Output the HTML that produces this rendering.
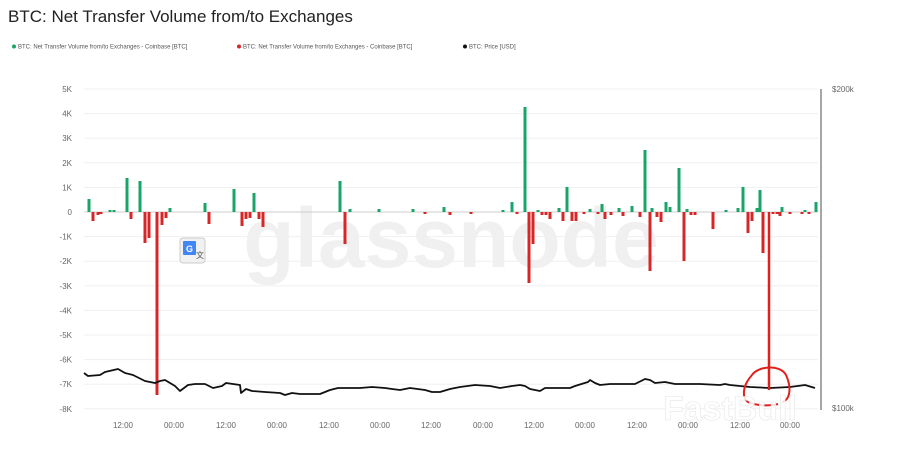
<!DOCTYPE html>
<html><head><meta charset="utf-8"><style>
html,body{margin:0;padding:0;background:#fff;width:901px;height:474px;overflow:hidden}
svg{display:block}
text{font-family:"Liberation Sans",sans-serif}
</style></head><body>
<svg width="901" height="474" viewBox="0 0 901 474" xmlns="http://www.w3.org/2000/svg">
<rect width="901" height="474" fill="#fff"/>
<text x="8" y="22" font-size="17" fill="#222">BTC: Net Transfer Volume from/to Exchanges</text>
<g font-size="6" fill="#555">
<circle cx="14" cy="46.5" r="2" fill="#1aa568"/><text x="18" y="48.5">BTC: Net Transfer Volume from/to Exchanges - Coinbase [BTC]</text>
<circle cx="239" cy="46.5" r="2" fill="#d62728"/><text x="243" y="48.5">BTC: Net Transfer Volume from/to Exchanges - Coinbase [BTC]</text>
<circle cx="465" cy="46.5" r="2" fill="#111"/><text x="469" y="48.5">BTC: Price [USD]</text>
</g>
<g stroke="#f0f0f0" stroke-width="1">
<line x1="84" x2="818" y1="89" y2="89"/><line x1="84" x2="818" y1="113.6" y2="113.6"/><line x1="84" x2="818" y1="138.2" y2="138.2"/><line x1="84" x2="818" y1="162.8" y2="162.8"/><line x1="84" x2="818" y1="187.4" y2="187.4"/><line x1="84" x2="818" y1="236.6" y2="236.6"/><line x1="84" x2="818" y1="261.2" y2="261.2"/><line x1="84" x2="818" y1="285.8" y2="285.8"/><line x1="84" x2="818" y1="310.4" y2="310.4"/><line x1="84" x2="818" y1="335" y2="335"/><line x1="84" x2="818" y1="359.6" y2="359.6"/><line x1="84" x2="818" y1="384.2" y2="384.2"/><line x1="84" x2="818" y1="408.8" y2="408.8"/>
</g>
<text x="451" y="267" font-size="84" font-weight="bold" fill="#f0f0f0" text-anchor="middle">glassnode</text>
<line x1="84" x2="818" y1="212" y2="212" stroke="#ccc" stroke-width="1"/>
<g font-size="8" fill="#666" text-anchor="end">
<text x="72" y="92">5K</text><text x="72" y="116.6">4K</text><text x="72" y="141.2">3K</text><text x="72" y="165.8">2K</text><text x="72" y="190.4">1K</text><text x="72" y="215">0</text><text x="72" y="239.6">-1K</text><text x="72" y="264.2">-2K</text><text x="72" y="288.8">-3K</text><text x="72" y="313.4">-4K</text><text x="72" y="338">-5K</text><text x="72" y="362.6">-6K</text><text x="72" y="387.2">-7K</text><text x="72" y="411.8">-8K</text>
</g>
<line x1="821" x2="821" y1="89" y2="410" stroke="#888" stroke-width="1.5"/>
<g font-size="8" fill="#666"><text x="832" y="92">$200k</text><text x="832" y="411">$100k</text></g>
<g font-size="8" fill="#666" text-anchor="middle">
<text x="123" y="428">12:00</text><text x="174" y="428">00:00</text><text x="226" y="428">12:00</text><text x="277" y="428">00:00</text><text x="329" y="428">12:00</text><text x="380" y="428">00:00</text><text x="431" y="428">12:00</text><text x="483" y="428">00:00</text><text x="534" y="428">12:00</text><text x="585" y="428">00:00</text><text x="637" y="428">12:00</text><text x="688" y="428">00:00</text><text x="740" y="428">12:00</text><text x="790" y="428">00:00</text>
</g>
<g fill="#1aa568">
<rect x="87.5" y="199" width="3" height="13"/><rect x="108.5" y="210" width="3" height="2"/><rect x="112.5" y="210" width="3" height="2"/><rect x="125.5" y="178" width="3" height="34"/><rect x="138.5" y="181" width="3" height="31"/><rect x="168.5" y="208" width="3" height="4"/><rect x="203.5" y="203" width="3" height="9"/><rect x="232.5" y="189" width="3" height="23"/><rect x="252.5" y="193" width="3" height="19"/><rect x="338.5" y="181" width="3" height="31"/><rect x="348.5" y="209" width="3" height="3"/><rect x="377.5" y="209" width="3" height="3"/><rect x="411.5" y="209" width="3" height="3"/><rect x="442.5" y="207" width="3" height="5"/><rect x="501.5" y="210" width="3" height="2"/><rect x="510.5" y="202" width="3" height="10"/><rect x="523.5" y="107" width="3" height="105"/><rect x="536.5" y="210" width="3" height="2"/><rect x="557.5" y="208" width="3" height="4"/><rect x="565.5" y="187" width="3" height="25"/><rect x="588.5" y="209" width="3" height="3"/><rect x="600.5" y="204" width="3" height="8"/><rect x="617.5" y="208" width="3" height="4"/><rect x="630.5" y="206" width="3" height="6"/><rect x="643.5" y="150" width="3" height="62"/><rect x="650.5" y="208" width="3" height="4"/><rect x="664.5" y="202" width="3" height="10"/><rect x="668.5" y="207" width="3" height="5"/><rect x="677.5" y="168" width="3" height="44"/><rect x="685.5" y="209" width="3" height="3"/><rect x="724.5" y="210" width="3" height="2"/><rect x="736.5" y="208" width="3" height="4"/><rect x="741.5" y="187" width="3" height="25"/><rect x="755.5" y="208" width="3" height="4"/><rect x="758.5" y="190" width="3" height="22"/><rect x="780.5" y="207" width="3" height="5"/><rect x="803.5" y="210" width="3" height="2"/><rect x="814.5" y="202" width="3" height="10"/>
</g>
<g fill="#d62728">
<rect x="91.5" y="212" width="3" height="9"/><rect x="96.5" y="212" width="3" height="3"/><rect x="99.5" y="212" width="3" height="2"/><rect x="129.5" y="212" width="3" height="7"/><rect x="143.5" y="212" width="3" height="31"/><rect x="147.5" y="212" width="3" height="26"/><rect x="155.5" y="212" width="3" height="183"/><rect x="160.5" y="212" width="3" height="13"/><rect x="164.5" y="212" width="3" height="6"/><rect x="207.5" y="212" width="3" height="12"/><rect x="240.5" y="212" width="3" height="14"/><rect x="244.5" y="212" width="3" height="7"/><rect x="248.5" y="212" width="3" height="6"/><rect x="257.5" y="212" width="3" height="7"/><rect x="261.5" y="212" width="3" height="15"/><rect x="343.5" y="212" width="3" height="32"/><rect x="423.5" y="212" width="3" height="2"/><rect x="448.5" y="212" width="3" height="3"/><rect x="469.5" y="212" width="3" height="2"/><rect x="515.5" y="212" width="3" height="2"/><rect x="527.5" y="212" width="3" height="71"/><rect x="531.5" y="212" width="3" height="32"/><rect x="540.5" y="212" width="3" height="3"/><rect x="544.5" y="212" width="3" height="3"/><rect x="548.5" y="212" width="3" height="7"/><rect x="561.5" y="212" width="3" height="9"/><rect x="570.5" y="212" width="3" height="9"/><rect x="574.5" y="212" width="3" height="9"/><rect x="582.5" y="212" width="3" height="2"/><rect x="596.5" y="212" width="3" height="2"/><rect x="603.5" y="212" width="3" height="7"/><rect x="609.5" y="212" width="3" height="3"/><rect x="621.5" y="212" width="3" height="4"/><rect x="638.5" y="212" width="3" height="5"/><rect x="648.5" y="212" width="3" height="59"/><rect x="655.5" y="212" width="3" height="5"/><rect x="659.5" y="212" width="3" height="10"/><rect x="682.5" y="212" width="3" height="49"/><rect x="689.5" y="212" width="3" height="3"/><rect x="693.5" y="212" width="3" height="3"/><rect x="711.5" y="212" width="3" height="17"/><rect x="746.5" y="212" width="3" height="21"/><rect x="750.5" y="212" width="3" height="9"/><rect x="761.5" y="212" width="3" height="41"/><rect x="771.5" y="212" width="3" height="2"/><rect x="775.5" y="212" width="3" height="2"/><rect x="778.5" y="212" width="3" height="4"/><rect x="788.5" y="212" width="3" height="2"/><rect x="800.5" y="212" width="3" height="2"/><rect x="807.5" y="212" width="3" height="2"/>
</g>
<polyline fill="none" stroke="#111" stroke-width="1.8" stroke-linejoin="round" points="84,373 88,376 100,375 105,372 118,369 125,373 133,375 145,381 155,383 160,381 165,380 175,386 180,391 188,385 195,384 205,384 213,388 222,386 226,383 240,385 241,393 246,389 252,391 265,392 280,393 285,395 292,393 300,394 320,394 330,390 338,388 360,388 372,387 385,388 392,389 400,390 410,388 425,390 432,392 440,392 450,389 460,387 475,385 490,386 500,388 512,386 520,385 525,386 530,389 540,391 545,388 555,388 570,388 575,386 588,382 590,380 595,383 600,385 610,384 620,384 635,384 645,379 650,380 655,383 665,382 675,384 685,384 700,384 720,385 725,384 730,385 740,386 750,387 770,388 790,387 805,385 815,388"/>
<line x1="769" x2="769" y1="212" y2="390" stroke="#e0201c" stroke-width="2.5"/>
<path d="M752,375 C758,366 780,364 786,375 C792,388 790,400 782,402 M752,375 C742,386 742,398 748,402 C756,406 770,406 778,404" fill="none" stroke="#e0201c" stroke-width="2"/>
<text x="730" y="420" font-size="34" font-weight="bold" fill="#fff" fill-opacity="0.85" stroke="#e6e6e6" stroke-width="0.6" text-anchor="middle">FastBull</text>
<rect x="180" y="238" width="25" height="25" rx="3" fill="#f1f1f1" stroke="#ccc"/>
<rect x="183" y="241" width="13" height="14" rx="1" fill="#4285f4"/>
<text x="189.5" y="252" font-size="9" font-weight="bold" fill="#fff" text-anchor="middle">G</text>
<text x="200" y="258" font-size="8" fill="#555" text-anchor="middle">文</text>
</svg>
</body></html>
